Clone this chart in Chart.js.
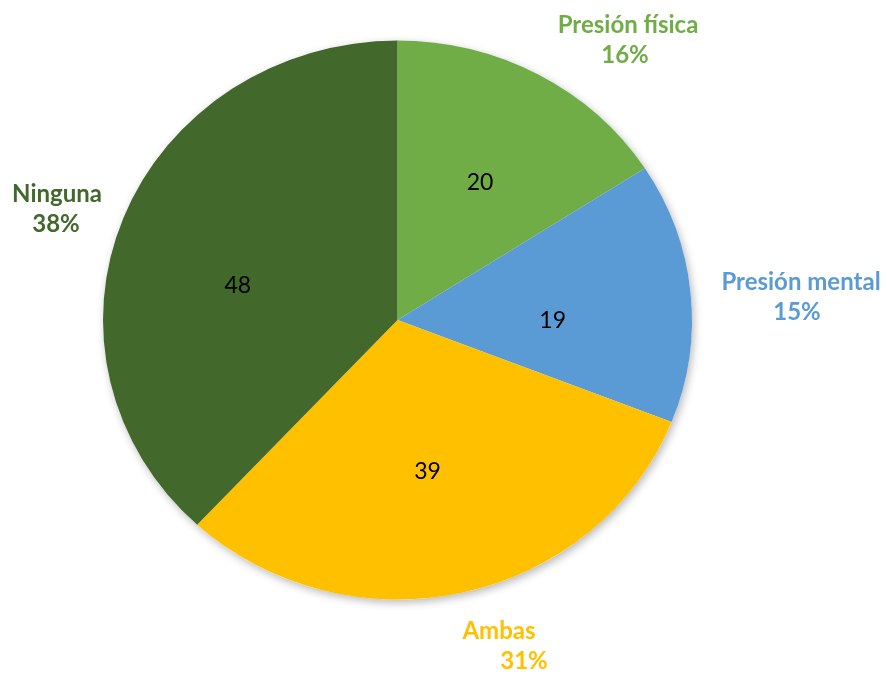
<!DOCTYPE html>
<html>
<head>
<meta charset="utf-8">
<style>
  html, body { margin: 0; padding: 0; background: #fff; }
  #wrap { width: 887px; height: 675px; position: relative; }
</style>
<script src="https://cdn.jsdelivr.net/npm/chart.js@4.4.1/dist/chart.umd.min.js"></script>
</head>
<body>
<div id="wrap"><canvas id="pie" width="887" height="675"></canvas></div>
<script>
const categories = ['Presión física', 'Presión mental', 'Ambas', 'Ninguna'];
const values = [20, 19, 39, 48];
const sliceColors = ['#70AD47', '#5B9BD5', '#FFC000', '#43682B'];

// pie is a bit squashed vertically
const yScale = 0.949;

// nudges for the value labels inside the slices
const valueNudge = [[5, -2], [-6, 16], [-6, 2], [-9, 22]];
// name + percent labels outside the pie (centre of first line)
const outerLabelPos = [[628, 25], [801, 282], [499, 631], [57, 194]];
const percentShift = [-3, -4, 25, -1];

const total = values.reduce((a, b) => a + b, 0);

const ovalPie = {
  id: 'ovalPie',
  beforeDatasetsDraw(chart) {
    const ctx = chart.ctx;
    const arc = chart.getDatasetMeta(0).data[0];
    const { x, y, outerRadius } = arc;
    ctx.save();
    ctx.translate(x, y);
    ctx.scale(1, yScale);
    ctx.translate(-x, -y);
    // soft shadow behind the whole pie
    ctx.save();
    ctx.shadowColor = 'rgba(0,0,0,0.28)';
    ctx.shadowBlur = 9;
    ctx.shadowOffsetX = 2;
    ctx.shadowOffsetY = 3;
    ctx.fillStyle = '#fff';
    ctx.beginPath();
    ctx.arc(x, y, outerRadius, 0, Math.PI * 2);
    ctx.fill();
    ctx.restore();
  },
  afterDatasetsDraw(chart) {
    chart.ctx.restore();
  },
  afterDraw(chart) {
    const ctx = chart.ctx;
    const meta = chart.getDatasetMeta(0);
    ctx.save();
    ctx.textAlign = 'center';
    ctx.textBaseline = 'middle';

    meta.data.forEach((arc, i) => {
      const mid = (arc.startAngle + arc.endAngle) / 2;
      const r = arc.outerRadius * 0.55;
      const px = arc.x + Math.cos(mid) * r + valueNudge[i][0];
      const py = arc.y + Math.sin(mid) * r * yScale + valueNudge[i][1];
      ctx.fillStyle = '#000';
      ctx.font = '23px Lato, "Liberation Sans", sans-serif';
      ctx.fillText(String(values[i]), px, py);

      const pct = Math.round(values[i] / total * 100) + '%';
      const [lx, ly] = outerLabelPos[i];
      ctx.fillStyle = sliceColors[i];
      ctx.font = 'bold 24px Lato, "Liberation Sans", sans-serif';
      ctx.fillText(categories[i], lx, ly);
      ctx.fillText(pct, lx + percentShift[i], ly + 30);
    });
    ctx.restore();
  }
};

new Chart(document.getElementById('pie'), {
  type: 'pie',
  data: {
    labels: categories,
    datasets: [{
      data: values,
      backgroundColor: sliceColors,
      borderWidth: 0,
      clip: false
    }]
  },
  options: {
    responsive: false,
    animation: false,
    layout: { padding: { left: 103, right: 195, top: 25, bottom: 60 } },
    plugins: {
      legend: { display: false },
      tooltip: { enabled: false }
    }
  },
  plugins: [ovalPie]
});
</script>
</body>
</html>
